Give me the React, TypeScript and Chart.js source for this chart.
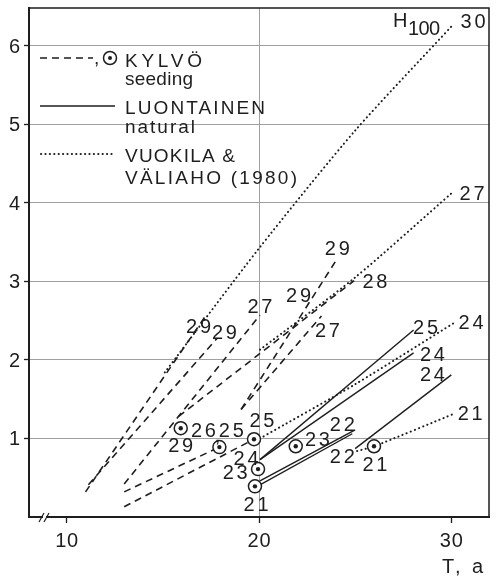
import React, { useEffect, useRef } from "react";
import { Chart, registerables } from "chart.js";

Chart.register(...registerables);

const WIDTH = 497;
const HEIGHT = 578;

// Axis ranges: stand age T (a) and dominant height H100 (m)
const T_MIN = 8.04;
const T_MAX = 31.96;
const H_MAX = 6.48;
const xTicks = [10, 20, 30];
const yTicks = [1, 2, 3, 4, 5, 6];

// Vuokila & Väliaho (1980) height development curves
const vuokila30T = [15.1, 20, 25, 30.1];
const vuokila30H = [1.84, 3.42, 4.92, 6.27];
const vuokila27T = [20.05, 25, 30.05];
const vuokila27H = [2.13, 3.05, 4.13];
const vuokila24T = [20.05, 25, 30.2];
const vuokila24H = [1.0, 1.69, 2.48];
const vuokila21T = [25.1, 25.98, 30.2];
const vuokila21H = [0.84, 0.9, 1.32];

// Seeded stands (KYLVÖ): two measurements each
const seedStartT = [10.98, 11.13, 12.99, 12.99, 12.99, 19.07, 19.07, 15.82];
const seedStartH = [0.32, 0.41, 0.42, 0.32, 0.13, 1.37, 1.37, 1.28];
const seedEndT = [17.22, 17.84, 20.05, 17.94, 19.74, 24.07, 23.25, 24.95];
const seedEndH = [2.56, 2.28, 2.57, 0.89, 0.99, 3.29, 2.56, 3.01];

// Seeded plots measured once
const plotT = [15.93, 17.94, 19.74, 19.95, 19.79, 21.91, 25.98];
const plotH = [1.13, 0.89, 0.99, 0.61, 0.39, 0.9, 0.9];

// Naturally regenerated stands (LUONTAINEN)
const naturalStartT = [20.05, 20.05, 25.0, 20.05, 20.05];
const naturalStartH = [0.73, 0.73, 0.87, 0.46, 0.41];
const naturalEndT = [28.04, 28.04, 30.0, 25.0, 24.85];
const naturalEndH = [2.38, 2.09, 1.81, 1.11, 1.06];

// Site index annotations
const labelText = [
  "29", "29", "27", "29", "29", "28", "27",
  "26", ",", "25", "29", "25", "24", "23", "21",
  "23", "22", "22", "21",
  "21", "24", "25", "24", "24", "27", "30",
];
const labelT = [
  16.86, 18.2, 20.05, 24.07, 22.06, 26.03, 23.56,
  17.11, 17.84, 18.56, 15.93, 20.15, 19.33, 18.76, 19.85,
  23.04, 24.33, 24.33, 26.03,
  30.98, 31.03, 28.66, 29.02, 29.02, 31.08, 31.13,
];
const labelH = [
  2.43, 2.35, 2.68, 3.42, 2.82, 3.01, 2.38,
  1.11, 1.04, 1.11, 0.92, 1.23, 0.75, 0.57, 0.16,
  0.99, 1.19, 0.78, 0.68,
  1.32, 2.48, 2.42, 2.08, 1.82, 4.13, 6.32,
];

const INK = "#1e1e1e";
const GRID = "#a0a0a0";
const FONT = "'Liberation Sans', Arial, sans-serif";
const NUM_SIZE = 20;
const TEXT_SIZE = 19;

const DASHED = [7, 5];
const DOTTED = [0.2, 4.2];

function spacedText(
  ctx: CanvasRenderingContext2D,
  text: string,
  x: number,
  y: number,
  width: number | null,
  align: "left" | "center" | "right",
  size: number
) {
  ctx.font = `${size}px ${FONT}`;
  (ctx as any).letterSpacing = "0px";
  const natural = ctx.measureText(text).width;
  const n = Array.from(text).length;
  let spacing = 0;
  if (width !== null && n > 1) spacing = (width - natural) / (n - 1);
  const total = natural + spacing * (n - 1);
  let left = x;
  if (align === "center") left = x - total / 2;
  else if (align === "right") left = x - total;
  (ctx as any).letterSpacing = `${spacing}px`;
  ctx.textAlign = "left";
  ctx.textBaseline = "alphabetic";
  ctx.fillStyle = INK;
  ctx.fillText(text, left, y);
  (ctx as any).letterSpacing = "0px";
}

function pairs(xs: number[], ys: number[]) {
  return xs.map((x, i) => ({ x, y: ys[i] }));
}

function lineSet(xs: number[], ys: number[], kind: "dash" | "dot" | "solid") {
  return {
    data: pairs(xs, ys),
    order: 3,
    showLine: true,
    pointRadius: 0,
    pointHoverRadius: 0,
    borderColor: INK,
    borderWidth: kind === "dot" ? 2 : kind === "dash" ? 1.6 : 1.4,
    borderDash: kind === "dot" ? DOTTED : kind === "dash" ? DASHED : [],
    borderCapStyle: kind === "dot" ? "round" : "butt",
    tension: kind === "dot" ? 0.25 : 0,
    fill: false,
  };
}

const annotations = {
  id: "annotations",
  afterDraw(chart: any) {
    const { ctx, chartArea: a, scales } = chart;
    const xs = scales.x;
    const ys = scales.y;
    ctx.save();

    // top and right frame
    ctx.strokeStyle = INK;
    ctx.lineWidth = 1.5;
    ctx.setLineDash([]);
    ctx.beginPath();
    ctx.moveTo(a.left, a.top);
    ctx.lineTo(a.right, a.top);
    ctx.lineTo(a.right, a.bottom);
    ctx.stroke();

    // axis break on the age axis
    ctx.fillStyle = "#ffffff";
    ctx.fillRect(43, a.bottom - 3, 3, 6);
    ctx.lineWidth = 1.2;
    ctx.beginPath();
    ctx.moveTo(39, a.bottom + 5);
    ctx.lineTo(44, a.bottom - 4);
    ctx.moveTo(44, a.bottom + 5);
    ctx.lineTo(49, a.bottom - 4);
    ctx.stroke();

    // tick labels
    xTicks.forEach((v) => {
      spacedText(ctx, String(v), xs.getPixelForValue(v), a.bottom + 30, 23, "center", NUM_SIZE);
    });
    yTicks.forEach((v) => {
      spacedText(ctx, String(v), 20, ys.getPixelForValue(v) + 7, null, "right", NUM_SIZE);
    });

    // axis titles
    spacedText(ctx, "T, a", 442, 573, 41, "left", NUM_SIZE);
    spacedText(ctx, "H", 393, 27, null, "left", NUM_SIZE);
    spacedText(ctx, "100", 408, 35, 32, "left", NUM_SIZE);

    // site index labels
    labelText.forEach((t, i) => {
      const px = xs.getPixelForValue(labelT[i]);
      const py = ys.getPixelForValue(labelH[i]);
      spacedText(ctx, t, px, py + 7, t.length > 1 ? 25 : null, "center", NUM_SIZE);
    });

    // legend
    ctx.strokeStyle = INK;
    ctx.lineWidth = 1.6;
    ctx.setLineDash(DASHED);
    ctx.beginPath();
    ctx.moveTo(40, 58);
    ctx.lineTo(93, 58);
    ctx.stroke();
    spacedText(ctx, ",", 94, 64, null, "left", TEXT_SIZE);
    ctx.setLineDash([]);
    ctx.lineWidth = 1.5;
    ctx.beginPath();
    ctx.arc(110, 58, 6.5, 0, Math.PI * 2);
    ctx.stroke();
    ctx.fillStyle = INK;
    ctx.beginPath();
    ctx.arc(110, 58, 2, 0, Math.PI * 2);
    ctx.fill();

    ctx.lineWidth = 1.4;
    ctx.beginPath();
    ctx.moveTo(40, 106);
    ctx.lineTo(115, 106);
    ctx.stroke();

    ctx.lineWidth = 2;
    ctx.lineCap = "round";
    ctx.setLineDash(DOTTED);
    ctx.beginPath();
    ctx.moveTo(41, 154);
    ctx.lineTo(113, 154);
    ctx.stroke();
    ctx.setLineDash([]);
    ctx.lineCap = "butt";

    spacedText(ctx, "KYLVÖ", 125, 67, 77, "left", TEXT_SIZE);
    spacedText(ctx, "seeding", 125, 85, 68, "left", TEXT_SIZE);
    spacedText(ctx, "LUONTAINEN", 125, 114, 140, "left", TEXT_SIZE);
    spacedText(ctx, "natural", 125, 133, 70, "left", TEXT_SIZE);
    spacedText(ctx, "VUOKILA &", 125, 162, 110, "left", TEXT_SIZE);
    spacedText(ctx, "VÄLIAHO (1980)", 125, 184, 172, "left", TEXT_SIZE);

    ctx.restore();
  },
};

export default function App() {
  const canvasRef = useRef<HTMLCanvasElement | null>(null);

  useEffect(() => {
    const canvas = canvasRef.current;
    if (!canvas) return;

    const datasets: any[] = [];
    datasets.push(lineSet(vuokila30T, vuokila30H, "dot"));
    datasets.push(lineSet(vuokila27T, vuokila27H, "dot"));
    datasets.push(lineSet(vuokila24T, vuokila24H, "dot"));
    datasets.push(lineSet(vuokila21T, vuokila21H, "dot"));
    seedStartT.forEach((t, i) => {
      datasets.push(lineSet([t, seedEndT[i]], [seedStartH[i], seedEndH[i]], "dash"));
    });
    naturalStartT.forEach((t, i) => {
      datasets.push(lineSet([t, naturalEndT[i]], [naturalStartH[i], naturalEndH[i]], "solid"));
    });
    // ring of each single-measurement plot
    datasets.push({
      data: pairs(plotT, plotH),
      order: 2,
      showLine: false,
      pointStyle: "circle",
      pointRadius: 6.5,
      pointHoverRadius: 6.5,
      pointBorderWidth: 1.5,
      pointBorderColor: INK,
      pointBackgroundColor: "#ffffff",
    });
    // centre dot of each ring
    datasets.push({
      data: pairs(plotT, plotH),
      order: 1,
      showLine: false,
      pointStyle: "circle",
      pointRadius: 2.2,
      pointHoverRadius: 2.2,
      pointBorderWidth: 0,
      pointBorderColor: INK,
      pointBackgroundColor: INK,
    });

    const chart = new Chart(canvas, {
      type: "scatter",
      data: { datasets },
      options: {
        animation: false,
        responsive: false,
        devicePixelRatio: 1,
        events: [],
        layout: { padding: { top: 6, right: 4, left: 0, bottom: 0 } },
        plugins: {
          legend: { display: false },
          tooltip: { enabled: false },
          title: { display: false },
        },
        scales: {
          x: {
            type: "linear",
            min: T_MIN,
            max: T_MAX,
            afterBuildTicks: (s: any) => {
              s.ticks = xTicks.map((v) => ({ value: v }));
            },
            afterFit: (s: any) => {
              s.height = 61;
            },
            ticks: { display: false },
            grid: {
              color: (c: any) => (c.tick && c.tick.value === 20 ? GRID : "rgba(0,0,0,0)"),
              lineWidth: 1,
              drawTicks: true,
              tickLength: 6,
              tickColor: INK,
              tickWidth: 1.3,
            },
            border: { display: true, color: INK, width: 2 },
          },
          y: {
            type: "linear",
            min: 0,
            max: H_MAX,
            afterBuildTicks: (s: any) => {
              s.ticks = yTicks.map((v) => ({ value: v }));
            },
            afterFit: (s: any) => {
              s.width = 29;
            },
            ticks: { display: false },
            grid: {
              color: GRID,
              lineWidth: 1,
              drawTicks: true,
              tickLength: 5,
              tickColor: INK,
              tickWidth: 1.3,
            },
            border: { display: true, color: INK, width: 2 },
          },
        },
      },
      plugins: [annotations],
    } as any);

    return () => chart.destroy();
  }, []);

  return (
    <div style={{ position: "absolute", left: 0, top: 0, width: WIDTH, height: HEIGHT, background: "#ffffff" }}>
      <canvas ref={canvasRef} width={WIDTH} height={HEIGHT} style={{ display: "block", width: WIDTH, height: HEIGHT }} />
    </div>
  );
}
